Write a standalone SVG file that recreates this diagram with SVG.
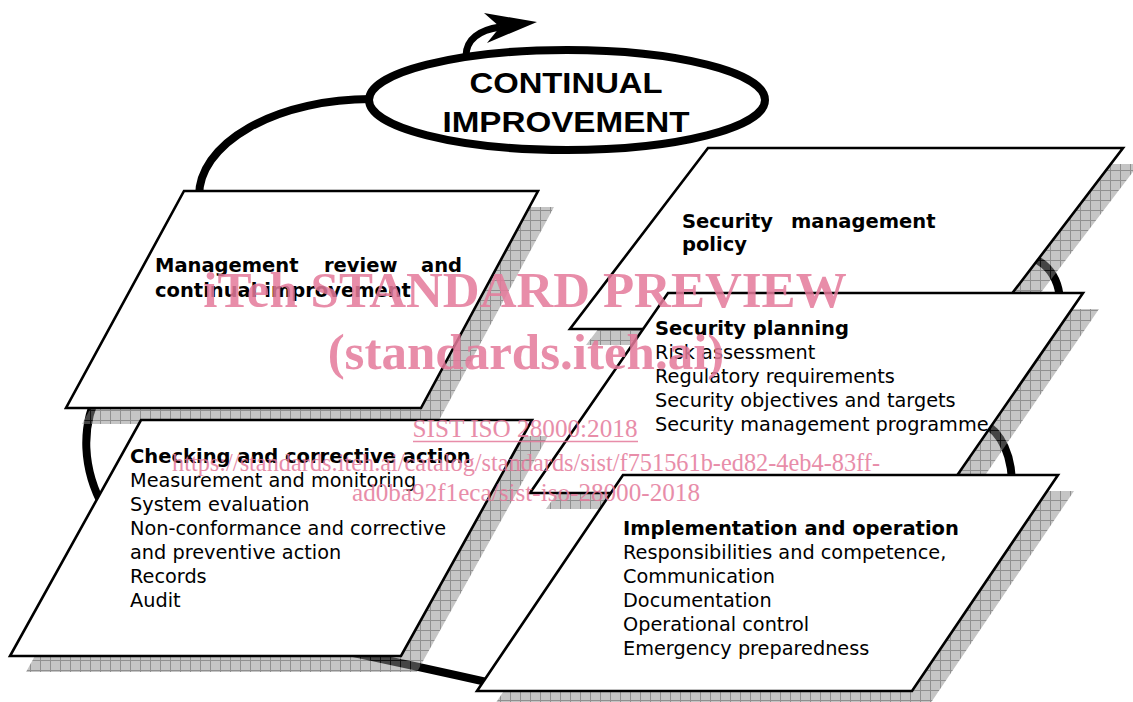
<svg xmlns="http://www.w3.org/2000/svg" width="1133" height="702" viewBox="0 0 1133 702">
<style>
.box{fill:#fff;stroke:#000;stroke-width:2.6;stroke-linejoin:miter}
.shadow{fill:url(#grid);opacity:0.5}
.loop{fill:none;stroke:#000;stroke-width:8}
.t{font-family:"DejaVu Sans",Verdana,sans-serif;font-size:19.3px;fill:#000}
.b{font-weight:bold;font-size:19.5px}
.ci{font-family:"Liberation Sans",Arial,sans-serif;font-weight:bold;font-size:30px;fill:#000;text-anchor:middle}
.wm{font-family:"Liberation Serif","Times New Roman",serif;fill:#e57a9b;opacity:0.85;text-anchor:middle}
</style>
<defs>
<pattern id="grid" patternUnits="userSpaceOnUse" width="10" height="10">
<rect width="10" height="10" fill="#8a8a8a"/>
<path d="M0.5,0V10M0,0.5H10" stroke="#222" stroke-width="1"/>
</pattern>
</defs>

<g id="connectors">
<path class="loop" d="M199,196 A172 97 0 0 1 371,99"/>
<path class="loop" d="M100,390 C80,425 82,470 105,510"/>
<path class="loop" d="M330,648 Q420,667 500,685"/>
<path class="loop" d="M975,420 C995,425 1010,445 1012,480"/>
<path class="loop" d="M1010,255 C1035,252 1058,268 1060,300"/>
</g>

<g id="shadows">
<polygon class="shadow" points="200,207 554,207 437,424 82,424"/>
<polygon class="shadow" points="724,164 1139,164 1001,345 586,345"/>
<polygon class="shadow" points="684,309 1099,309 962,509 546,509"/>
<polygon class="shadow" points="157,436 548,436 417,672 26,672"/>
<polygon class="shadow" points="639,491 1074,491 928,707 493,707"/>
</g>

<g id="continual-improvement">
<ellipse cx="567" cy="100" rx="198" ry="50" fill="#fff" stroke="#000" stroke-width="8"/>
<path d="M466,56 C466,39 480,30 500,27" fill="none" stroke="#000" stroke-width="7"/>
<polygon points="484,13 537,22 487,43 500,27" fill="#000"/>
<text class="ci" x="566" y="93" textLength="193" lengthAdjust="spacingAndGlyphs">CONTINUAL</text>
<text class="ci" x="566" y="132" textLength="247" lengthAdjust="spacingAndGlyphs">IMPROVEMENT</text>
</g>

<g id="management-review">
<polygon class="box" points="184,191 538,191 421,408 66,408"/>
<text class="t b" x="155" y="272">Management</text>
<text class="t b" x="324" y="272">review</text>
<text class="t b" x="421" y="272">and</text>
<text class="t b" x="155" y="297">continual improvement</text>
</g>

<g id="security-policy">
<polygon class="box" points="708,148 1123,148 985,329 570,329"/>
<text class="t b" x="682" y="228">Security</text>
<text class="t b" x="791" y="228">management</text>
<text class="t b" x="682" y="251">policy</text>
</g>

<g id="security-planning">
<polygon class="box" points="668,293 1083,293 945,493 530,493"/>
<text class="t b" x="655" y="335">Security planning</text>
<text class="t" x="655" y="359">Risk assessment</text>
<text class="t" x="655" y="383">Regulatory requirements</text>
<text class="t" x="655" y="407">Security objectives and targets</text>
<text class="t" x="655" y="431">Security management programme</text>
</g>

<g id="checking">
<polygon class="box" points="141,420 532,420 401,656 10,656"/>
<text class="t b" x="130" y="463">Checking and corrective action</text>
<text class="t" x="130" y="487">Measurement and monitoring</text>
<text class="t" x="130" y="511">System evaluation</text>
<text class="t" x="130" y="535">Non-conformance and corrective</text>
<text class="t" x="130" y="559">and preventive action</text>
<text class="t" x="130" y="583">Records</text>
<text class="t" x="130" y="607">Audit</text>
</g>

<g id="implementation">
<polygon class="box" points="623,475 1058,475 912,691 477,691"/>
<text class="t b" x="623" y="535">Implementation and operation</text>
<text class="t" x="623" y="559">Responsibilities and competence,</text>
<text class="t" x="623" y="583">Communication</text>
<text class="t" x="623" y="607">Documentation</text>
<text class="t" x="623" y="631">Operational control</text>
<text class="t" x="623" y="655">Emergency preparedness</text>
</g>

<g id="watermark">
<text class="wm" x="525" y="307" font-size="51" font-weight="bold">iTeh STANDARD PREVIEW</text>
<text class="wm" x="526" y="369" font-size="51" font-weight="bold">(standards.iteh.ai)</text>
<text class="wm" x="525" y="437" font-size="25" textLength="225" lengthAdjust="spacingAndGlyphs">SIST ISO 28000:2018</text>
<line x1="413" y1="441.5" x2="638" y2="441.5" stroke="#e57a9b" stroke-width="1.5" opacity="0.85"/>
<text class="wm" x="526" y="471" font-size="25" textLength="708" lengthAdjust="spacingAndGlyphs">https://standards.iteh.ai/catalog/standards/sist/f751561b-ed82-4eb4-83ff-</text>
<text class="wm" x="526" y="501" font-size="25" textLength="348" lengthAdjust="spacingAndGlyphs">ad0ba92f1eca/sist-iso-28000-2018</text>
</g>
</svg>
